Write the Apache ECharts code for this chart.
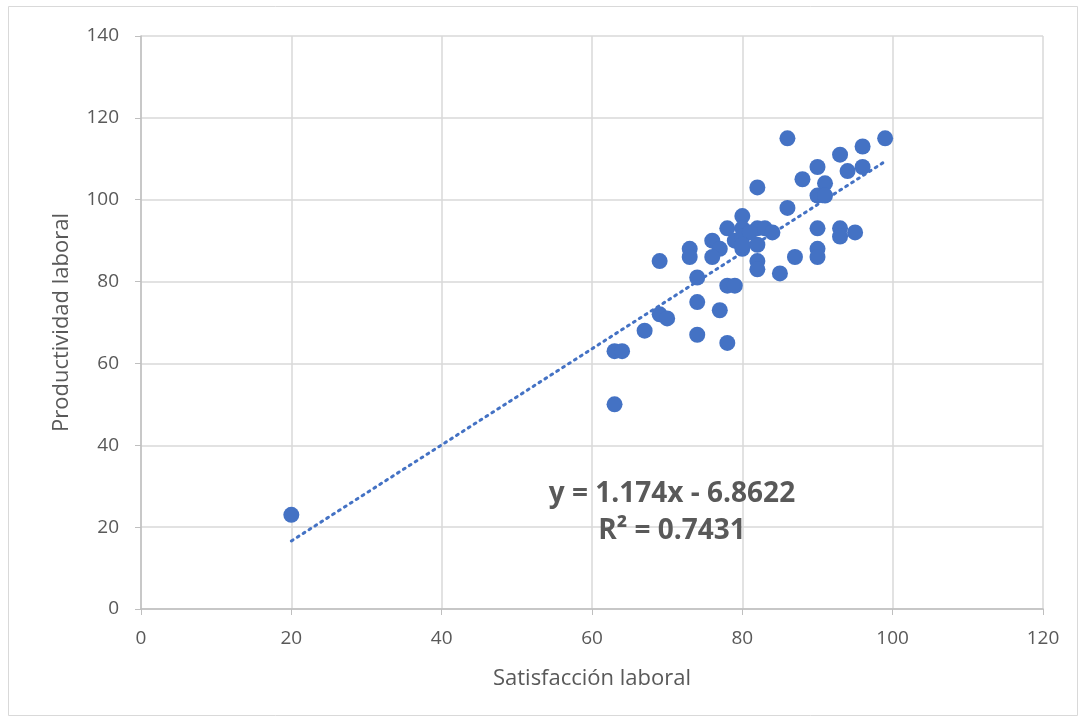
<!DOCTYPE html>
<html><head><meta charset="utf-8">
<script src="https://cdn.jsdelivr.net/npm/echarts@6/dist/echarts.min.js"></script>
<style>html,body{margin:0;padding:0;background:#fff}#c{width:1086px;height:724px}</style>
</head><body><div id="c"></div>
<script>
var satisfaccion = [86,99,96,93,90,94,96,88,91,82,90,91,86,80,78,80,82,83,84,90,93,93,95,76,79,80,82,80,73,77,73,76,90,90,87,69,82,82,85,74,78,79,74,77,69,70,67,74,78,63,64,63,20,81,80];
var productividad = [115,115,113,111,108,107,108,105,104,103,101,101,98,96,93,93,93,93,92,93,93,91,92,90,90,91,89,88,88,88,86,86,88,86,86,85,85,83,82,81,79,79,75,73,72,71,68,67,65,63,63,50,23,92,89];
var slope = 1.174, intercept = -6.8622, r2 = 0.7431;
var trendX = [20, 99];
var xTicks = [0,20,40,60,80,100,120];
var yTicks = [0,20,40,60,80,100,120,140];

var pts = satisfaccion.map(function(x,i){return [x, productividad[i]];});
var trend = trendX.map(function(x){return [x, slope*x + intercept];});
var font = "'Open Sans', 'Liberation Sans', sans-serif";
var chart = echarts.init(document.getElementById('c'));
chart.setOption({
  animation:false,
  backgroundColor:'#fff',
  grid:{left:141,right:43,top:36,bottom:115},
  xAxis:{type:'value',min:0,max:120,interval:20,
    name:'Satisfacción laboral',nameLocation:'middle',nameGap:59,
    nameTextStyle:{color:'#595959',fontSize:22,fontFamily:font},
    axisLine:{show:true,lineStyle:{color:'#bfbfbf',width:1.5}},
    axisTick:{show:true,length:6,lineStyle:{color:'#bfbfbf'}},
    axisLabel:{color:'#595959',fontSize:19,fontFamily:font,margin:20},
    splitLine:{show:true,lineStyle:{color:'#d9d9d9',width:1.5}}},
  yAxis:{type:'value',min:0,max:140,interval:20,
    name:'Productividad laboral',nameLocation:'middle',nameGap:68,
    nameTextStyle:{color:'#595959',fontSize:22,fontFamily:font},
    axisLine:{show:true,lineStyle:{color:'#bfbfbf',width:1.5}},
    axisTick:{show:true,length:6,lineStyle:{color:'#bfbfbf'}},
    axisLabel:{color:'#595959',fontSize:19,fontFamily:font,margin:22},
    splitLine:{show:true,lineStyle:{color:'#d9d9d9',width:1.5}}},
  series:[
    {type:'line',data:trend,symbol:'none',silent:true,
     lineStyle:{color:'#4472C4',width:3,type:[2,5],cap:'round'},z:1},
    {type:'scatter',data:pts,symbolSize:16,itemStyle:{color:'#4472C4',opacity:1},z:2}
  ],
  graphic:[
    {type:'rect',shape:{x:8.5,y:6.5,width:1069,height:709},style:{fill:'none',stroke:'#d9d9d9',lineWidth:1},silent:true,z:-1},
    {type:'text',x:672,y:494,z:10,style:{text:'y = ' + slope + 'x - ' + (-intercept),fill:'#595959',font:'bold 28px '+font,textAlign:'center',textVerticalAlign:'middle'}},
    {type:'text',x:672,y:531,z:10,style:{text:'R² = ' + r2,fill:'#595959',font:'bold 28px '+font,textAlign:'center',textVerticalAlign:'middle'}}
  ]
});
</script></body></html>
